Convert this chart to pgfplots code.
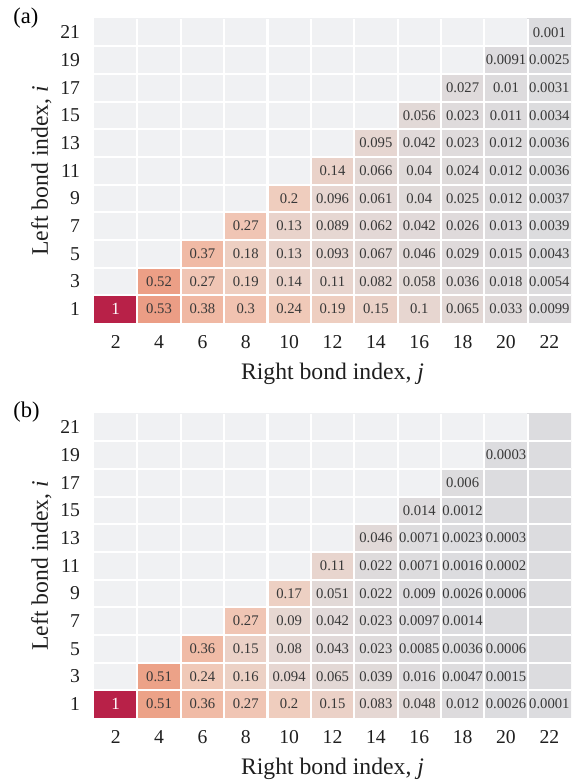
\documentclass[border=0pt]{standalone}
\usepackage{fontspec}
\setmainfont{Liberation Serif}
\usepackage{pgfplots}
\usepackage{pgfplotstable}
\pgfplotsset{compat=1.18}

% columns: j (right bond), i (left bond), v (value; -1 = empty cell)
\pgfplotstableread[row sep=\\]{
j i v\\
2 1 1\\ 4 1 0.53\\ 6 1 0.38\\ 8 1 0.3\\ 10 1 0.24\\ 12 1 0.19\\ 14 1 0.15\\ 16 1 0.1\\ 18 1 0.065\\ 20 1 0.033\\ 22 1 0.0099\\
2 3 -1\\ 4 3 0.52\\ 6 3 0.27\\ 8 3 0.19\\ 10 3 0.14\\ 12 3 0.11\\ 14 3 0.082\\ 16 3 0.058\\ 18 3 0.036\\ 20 3 0.018\\ 22 3 0.0054\\
2 5 -1\\ 4 5 -1\\ 6 5 0.37\\ 8 5 0.18\\ 10 5 0.13\\ 12 5 0.093\\ 14 5 0.067\\ 16 5 0.046\\ 18 5 0.029\\ 20 5 0.015\\ 22 5 0.0043\\
2 7 -1\\ 4 7 -1\\ 6 7 -1\\ 8 7 0.27\\ 10 7 0.13\\ 12 7 0.089\\ 14 7 0.062\\ 16 7 0.042\\ 18 7 0.026\\ 20 7 0.013\\ 22 7 0.0039\\
2 9 -1\\ 4 9 -1\\ 6 9 -1\\ 8 9 -1\\ 10 9 0.2\\ 12 9 0.096\\ 14 9 0.061\\ 16 9 0.04\\ 18 9 0.025\\ 20 9 0.012\\ 22 9 0.0037\\
2 11 -1\\ 4 11 -1\\ 6 11 -1\\ 8 11 -1\\ 10 11 -1\\ 12 11 0.14\\ 14 11 0.066\\ 16 11 0.04\\ 18 11 0.024\\ 20 11 0.012\\ 22 11 0.0036\\
2 13 -1\\ 4 13 -1\\ 6 13 -1\\ 8 13 -1\\ 10 13 -1\\ 12 13 -1\\ 14 13 0.095\\ 16 13 0.042\\ 18 13 0.023\\ 20 13 0.012\\ 22 13 0.0036\\
2 15 -1\\ 4 15 -1\\ 6 15 -1\\ 8 15 -1\\ 10 15 -1\\ 12 15 -1\\ 14 15 -1\\ 16 15 0.056\\ 18 15 0.023\\ 20 15 0.011\\ 22 15 0.0034\\
2 17 -1\\ 4 17 -1\\ 6 17 -1\\ 8 17 -1\\ 10 17 -1\\ 12 17 -1\\ 14 17 -1\\ 16 17 -1\\ 18 17 0.027\\ 20 17 0.01\\ 22 17 0.0031\\
2 19 -1\\ 4 19 -1\\ 6 19 -1\\ 8 19 -1\\ 10 19 -1\\ 12 19 -1\\ 14 19 -1\\ 16 19 -1\\ 18 19 -1\\ 20 19 0.0091\\ 22 19 0.0025\\
2 21 -1\\ 4 21 -1\\ 6 21 -1\\ 8 21 -1\\ 10 21 -1\\ 12 21 -1\\ 14 21 -1\\ 16 21 -1\\ 18 21 -1\\ 20 21 -1\\ 22 21 0.001\\
}\dataA

\pgfplotstableread[row sep=\\]{
j i v\\
2 1 1\\ 4 1 0.51\\ 6 1 0.36\\ 8 1 0.27\\ 10 1 0.2\\ 12 1 0.15\\ 14 1 0.083\\ 16 1 0.048\\ 18 1 0.012\\ 20 1 0.0026\\ 22 1 0.0001\\
2 3 -1\\ 4 3 0.51\\ 6 3 0.24\\ 8 3 0.16\\ 10 3 0.094\\ 12 3 0.065\\ 14 3 0.039\\ 16 3 0.016\\ 18 3 0.0047\\ 20 3 0.0015\\ 22 3 0\\
2 5 -1\\ 4 5 -1\\ 6 5 0.36\\ 8 5 0.15\\ 10 5 0.08\\ 12 5 0.043\\ 14 5 0.023\\ 16 5 0.0085\\ 18 5 0.0036\\ 20 5 0.0006\\ 22 5 0\\
2 7 -1\\ 4 7 -1\\ 6 7 -1\\ 8 7 0.27\\ 10 7 0.09\\ 12 7 0.042\\ 14 7 0.023\\ 16 7 0.0097\\ 18 7 0.0014\\ 20 7 0\\ 22 7 0\\
2 9 -1\\ 4 9 -1\\ 6 9 -1\\ 8 9 -1\\ 10 9 0.17\\ 12 9 0.051\\ 14 9 0.022\\ 16 9 0.009\\ 18 9 0.0026\\ 20 9 0.0006\\ 22 9 0\\
2 11 -1\\ 4 11 -1\\ 6 11 -1\\ 8 11 -1\\ 10 11 -1\\ 12 11 0.11\\ 14 11 0.022\\ 16 11 0.0071\\ 18 11 0.0016\\ 20 11 0.0002\\ 22 11 0\\
2 13 -1\\ 4 13 -1\\ 6 13 -1\\ 8 13 -1\\ 10 13 -1\\ 12 13 -1\\ 14 13 0.046\\ 16 13 0.0071\\ 18 13 0.0023\\ 20 13 0.0003\\ 22 13 0\\
2 15 -1\\ 4 15 -1\\ 6 15 -1\\ 8 15 -1\\ 10 15 -1\\ 12 15 -1\\ 14 15 -1\\ 16 15 0.014\\ 18 15 0.0012\\ 20 15 0\\ 22 15 0\\
2 17 -1\\ 4 17 -1\\ 6 17 -1\\ 8 17 -1\\ 10 17 -1\\ 12 17 -1\\ 14 17 -1\\ 16 17 -1\\ 18 17 0.006\\ 20 17 0\\ 22 17 0\\
2 19 -1\\ 4 19 -1\\ 6 19 -1\\ 8 19 -1\\ 10 19 -1\\ 12 19 -1\\ 14 19 -1\\ 16 19 -1\\ 18 19 -1\\ 20 19 0.0003\\ 22 19 0\\
2 21 -1\\ 4 21 -1\\ 6 21 -1\\ 8 21 -1\\ 10 21 -1\\ 12 21 -1\\ 14 21 -1\\ 16 21 -1\\ 18 21 -1\\ 20 21 -1\\ 22 21 0\\
}\dataB

\pgfplotsset{
  colormap={hm}{
    rgb255=(240,241,243) rgb255=(240,241,243) rgb255=(240,241,243) rgb255=(240,241,243) rgb255=(240,241,243)
    rgb255=(240,241,243) rgb255=(240,241,243) rgb255=(240,241,243) rgb255=(240,241,243) rgb255=(240,241,243)
    rgb255=(220,220,223) rgb255=(231,214,208) rgb255=(239,205,190) rgb255=(241,194,176) rgb255=(240,182,160)
    rgb255=(237,164,138) rgb255=(231,140,120) rgb255=(221,112,105) rgb255=(208,85,93) rgb255=(196,58,82)
    rgb255=(184,33,72)
  },
  hm/.style={
    x=9.159pt, y=5.845pt,
    xmin=1, xmax=23, ymin=0, ymax=22,
    axis on top,
    axis line style={draw=none},
    major tick length=0pt, minor tick length=0pt,
    xtick={2,4,...,22}, ytick={1,3,...,21},
    minor xtick={3,5,...,21}, minor ytick={2,4,...,20},
    xminorgrids=true, yminorgrids=true, xmajorgrids=false, ymajorgrids=false,
    minor grid style={white, line width=0.9pt},
    point meta min=-1, point meta max=1,
    /pgf/number format/assume math mode=true,
    tick label style={font=\fontsize{8.3}{10}\selectfont, text=black!88},
    yticklabel style={xshift=-2.4pt},
    xticklabel style={yshift=-1.6pt},
    label style={font=\fontsize{10}{12}\selectfont, text=black!88},
    xlabel={Right bond index, \textit{j}},
    ylabel={Left bond index, \textit{i}},
    xlabel style={at={(axis description cs:0.5,-0.1872)}, anchor=base},
    ylabel style={at={(axis description cs:-0.0968,0.5)}, anchor=base, rotate=0},
    every node near coord/.append style={anchor=center, inner sep=0pt,
      font=\fontsize{6.2}{7}\selectfont, text=black!78},
  },
  celltext/.style={draw=none, mark=none, nodes near coords,
    point meta=explicit symbolic,
    restrict expr to domain={\thisrow{v}}{0.00001:0.999}},
}

\begin{document}
\begin{tikzpicture}
\path[use as bounding box] (0,0) rectangle (245pt,330.74pt);

\begin{axis}[hm, at={(39.71pt,194.31pt)}, anchor=south west]
\addplot[matrix plot*, mesh/cols=11, point meta=explicit] table[x=j, y=i, meta=v] {\dataA};
\addplot[celltext] table[x=j, y=i, meta=v] {\dataA};
\addplot[draw=none, mark=none, nodes near coords, point meta=explicit symbolic,
  every node near coord/.append style={text=white, font=\fontsize{7.2}{8}\selectfont}]
  coordinates {(2,1) [1]};
\end{axis}

\begin{axis}[hm, at={(39.71pt,27.46pt)}, anchor=south west]
\addplot[matrix plot*, mesh/cols=11, point meta=explicit] table[x=j, y=i, meta=v] {\dataB};
\addplot[celltext] table[x=j, y=i, meta=v] {\dataB};
\addplot[draw=none, mark=none, nodes near coords, point meta=explicit symbolic,
  every node near coord/.append style={text=white, font=\fontsize{7.2}{8}\selectfont}]
  coordinates {(2,1) [1]};
\end{axis}

\node[anchor=base west, font=\fontsize{9.5}{11}\selectfont, inner sep=0pt] at (5.49pt,320.6pt) {(a)};
\node[anchor=base west, font=\fontsize{9.5}{11}\selectfont, inner sep=0pt] at (5.49pt,154.2pt) {(b)};
\end{tikzpicture}
\end{document}
